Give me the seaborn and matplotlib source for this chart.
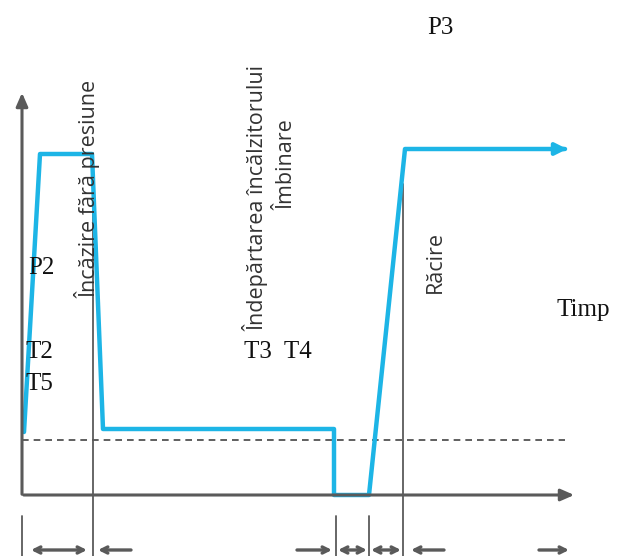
import matplotlib
matplotlib.use("Agg")
import matplotlib.pyplot as plt
import seaborn as sns
import pandas as pd

# pressure profile (time, pressure) in drawing units
time = [24, 40, 92, 103, 334, 334, 369, 405, 565]
pressure = [124, 402, 402, 127, 127, 61, 61, 407, 407]

drag_level = 116

labels_rot = ["Încăzire fără presiune", "Îndepărtarea încălzitorului", "Îmbinare", "Răcire"]
labels_rot_pos = [(87, 367), (255, 358), (287, 391), (435, 294)]
labels_serif = ["P3", "P2", "T2", "T5", "T3  T4", "Timp"]
labels_serif_pos = [(440, 528), (41, 288), (39, 204), (39, 172), (278, 204), (583, 246)]

sns.set_style("white")
blue = "#1DB5E6"
gray = "#5a5a5a"

fig = plt.figure(figsize=(6.22, 5.56), dpi=100)
ax = fig.add_axes([0, 0, 1, 1])

df = pd.DataFrame({"t": time, "p": pressure})

# axes with arrows
ax.annotate("", xy=(577, 61), xytext=(21, 61),
            arrowprops=dict(arrowstyle="-|>,head_length=0.8,head_width=0.35", color=gray, lw=2.2))
ax.annotate("", xy=(22, 466), xytext=(22, 59),
            arrowprops=dict(arrowstyle="-|>,head_length=0.8,head_width=0.35", color=gray, lw=2.2))

# dashed reference line
ax.plot([22, 565], [drag_level, drag_level], ls=(0, (4, 3)), color="#444444", lw=1.2)

# phase separators
ax.plot([93, 93], [0, 402], color=gray, lw=1.3)
ax.plot([403, 403], [0, 372], color=gray, lw=1.3)
for x in [22, 336, 369]:
    ax.plot([x, x], [0, 40], color=gray, lw=1.3)

# pressure curve
sns.lineplot(data=df, x="t", y="p", sort=False, estimator=None, color=blue, lw=3.2, ax=ax)
ax.annotate("", xy=(570, 407), xytext=(560, 407),
            arrowprops=dict(arrowstyle="-|>,head_length=0.7,head_width=0.35", color=blue, lw=3))
ax.set_xlim(0, 622)
ax.set_ylim(0, 556)
ax.axis("off")

# duration arrows
ay = 6
aprops = dict(color=gray, lw=2.4, mutation_scale=11, shrinkA=0, shrinkB=0)
ax.annotate("", xy=(87, ay), xytext=(31, ay), arrowprops=dict(arrowstyle="<->", **aprops))
ax.annotate("", xy=(98, ay), xytext=(131, ay), arrowprops=dict(arrowstyle="->", **aprops))
ax.annotate("", xy=(332, ay), xytext=(297, ay), arrowprops=dict(arrowstyle="->", **aprops))
ax.annotate("", xy=(367, ay), xytext=(338, ay), arrowprops=dict(arrowstyle="<->", **aprops))
ax.annotate("", xy=(401, ay), xytext=(371, ay), arrowprops=dict(arrowstyle="<->", **aprops))
ax.annotate("", xy=(411, ay), xytext=(444, ay), arrowprops=dict(arrowstyle="->", **aprops))
ax.annotate("", xy=(569, ay), xytext=(539, ay), arrowprops=dict(arrowstyle="->", **aprops))

for txt, (x, y) in zip(labels_rot, labels_rot_pos):
    ax.text(x, y, txt, rotation=90, ha="center", va="center", fontsize=15.5,
            family=["Open Sans", "DejaVu Sans"], color="#333333")

for txt, (x, y) in zip(labels_serif, labels_serif_pos):
    ax.text(x, y, txt, ha="center", va="center",
            fontsize=18, family=["Liberation Serif", "DejaVu Serif"], color="#111111")

fig.savefig("out.png", dpi=100)
